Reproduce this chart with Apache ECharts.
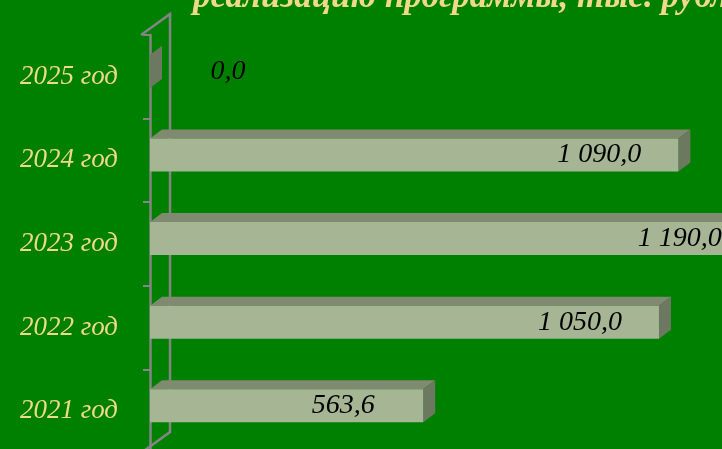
<!DOCTYPE html>
<html>
<head>
<meta charset="utf-8">
<script src="https://cdn.jsdelivr.net/npm/echarts@6/dist/echarts.min.js"></script>
<style>
html, body { margin: 0; padding: 0; background: #008000; }
#main { width: 722px; height: 449px; }
</style>
</head>
<body>
<div id="main"></div>
<script>
// данные
var years = ['2021 год', '2022 год', '2023 год', '2024 год', '2025 год'];
var values = [563.6, 1050.0, 1190.0, 1090.0, 0.0];
var titleText = 'реализацию программы, тыс. рублей';

var gridLeft = 150, gridTop = 35, gridHeight = 418;
var depthX = 12, depthY = -9;      // смещение "объёма" столбика
var wallX = 29, wallY = -21;       // глубина задней стенки
var khaki = '#f0d98a';
// сдвиг подписи от конца столбика (подписи в оригинале двигали вручную)
var labelShift = [-80, -79, -47, -79, 78];

function fmt(v) {
    var p = v.toFixed(1).split('.');
    return p[0].replace(/\B(?=(\d{3})+(?!\d))/g, ' ') + ',' + p[1];
}

var chart = echarts.init(document.getElementById('main'));
var option = {
    backgroundColor: '#008000',
    animation: false,
    title: {
        text: titleText,
        left: 193,
        top: -20,
        padding: 0,
        textStyle: {
            color: khaki,
            fontFamily: 'Liberation Serif',
            fontStyle: 'italic',
            fontWeight: 'bold',
            fontSize: 35,
            lineHeight: 35
        }
    },
    grid: {left: gridLeft, top: gridTop, width: 572, height: gridHeight, outerBoundsMode: 'none'},
    xAxis: {type: 'value', min: 0, max: 1180, show: false},
    yAxis: {
        type: 'category',
        data: years,
        offset: 9,
        axisLine: {show: true, lineStyle: {color: '#858585', width: 2.5}},
        axisTick: {show: true, length: 7, lineStyle: {color: '#858585', width: 2}},
        axisLabel: {
            margin: 23,
            color: khaki,
            fontFamily: 'Liberation Serif',
            fontStyle: 'italic',
            fontSize: 27
        },
        splitLine: {show: false}
    },
    // задняя стенка
    graphic: [{
        type: 'polyline',
        shape: {points: [
            [gridLeft - 9, gridTop],
            [gridLeft - 9 + wallX, gridTop + wallY],
            [gridLeft - 9 + wallX, gridTop + gridHeight + wallY],
            [gridLeft - 9, gridTop + gridHeight]
        ]},
        style: {stroke: '#858585', lineWidth: 2.5, fill: null},
        z: 1
    }],
    series: [{
        type: 'custom',
        encode: {x: 0, y: 1},
        data: values.map(function (v, i) { return [v, i]; }),
        z: 5,
        renderItem: function (params, api) {
            var v = api.value(0), idx = api.value(1);
            var p0 = api.coord([0, idx]);
            var p1 = api.coord([v, idx]);
            var band = api.size([0, 1])[1];
            var h = band * 0.395;
            var cy = p0[1] - band * 0.065;
            var x0 = p0[0], x1 = p1[0], y0 = cy - h / 2, y1 = cy + h / 2;
            return {
                type: 'group',
                children: [
                    {type: 'polygon', shape: {points: [[x0, y0], [x0 + depthX, y0 + depthY], [x1 + depthX, y0 + depthY], [x1, y0]]},
                        style: {fill: '#7f8a70'}},
                    {type: 'polygon', shape: {points: [[x1, y0], [x1 + depthX, y0 + depthY], [x1 + depthX, y1 + depthY], [x1, y1]]},
                        style: {fill: '#6c785f'}},
                    {type: 'rect', shape: {x: x0, y: y0, width: x1 - x0, height: h},
                        style: {fill: '#a6b594'}},
                    {type: 'text', style: {
                        x: x1 + labelShift[params.dataIndex], y: cy,
                        text: fmt(v),
                        fill: '#000',
                        font: 'italic 28px "Liberation Serif"',
                        align: 'center', verticalAlign: 'middle'
                    }}
                ]
            };
        }
    }]
};
chart.setOption(option);
</script>
</body>
</html>
